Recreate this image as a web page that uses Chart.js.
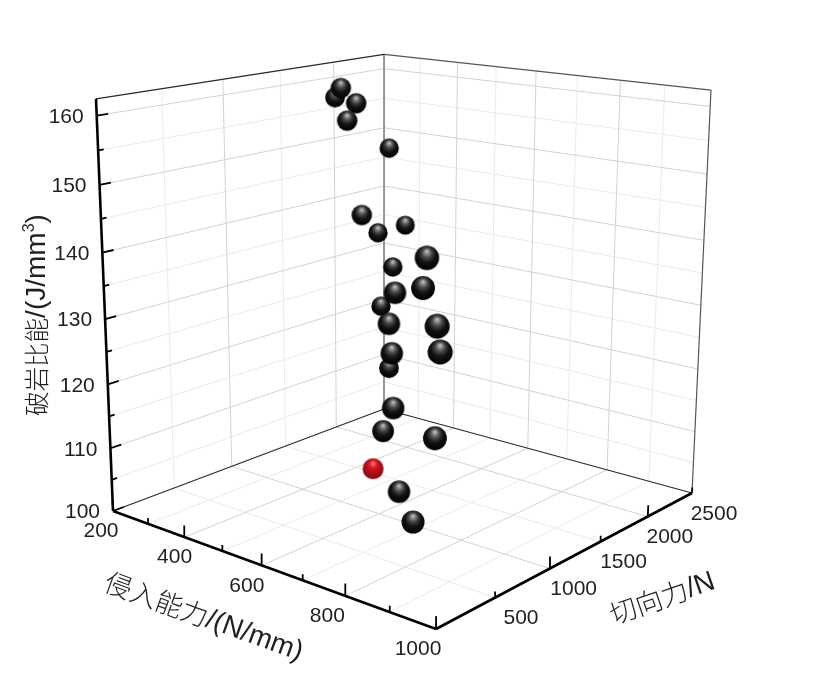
<!DOCTYPE html>
<html>
<head>
<meta charset="utf-8">
<style>
   html, body { margin: 0; padding: 0; background: #fff; }
   canvas { display: block; }
</style>
<script src="https://cdn.jsdelivr.net/npm/chart.js@4"></script>
</head>
<body>
<canvas id="chart" width="813" height="683"></canvas>
<script>
// values
const penetration = [281, 205, 317, 316, 253, 356, 265, 266, 301, 843, 640, 799, 296, 641, 920, 931, 654, 380, 673, 609, 858, 707, 788];
const tangential = [1787, 1993, 1805, 1723, 2359, 1717, 2202, 2480, 2222, 507, 996, 644, 2120, 939, 299, 283, 917, 1895, 860, 1004, 528, 788, 610];
const energy = [159.4, 156.7, 157.2, 154.7, 147.5, 140.0, 133.9, 134.0, 128.4, 144.8, 134.8, 139.4, 122.1, 130.5, 137.7, 134.5, 126.4, 114.0, 118.8, 113.2, 119.8, 107.2, 105.6];

const optimumPenetration = [525];
const optimumTangential = [1215];
const optimumEnergy = [104.2];

const xMajor = [200, 400, 600, 800, 1000];
const xMinor = [300, 500, 700, 900];
const xLabels = [200, 400, 600, 800, 1000];
const yMajor = [0, 1000, 2000];
const yMinor = [500, 1500, 2500];
const yLabels = [500, 1000, 1500, 2000, 2500];
const zMajor = [100, 110, 120, 130, 140, 150, 160];
const zMinor = [105, 115, 125, 135, 145, 155];

const xRange = [200, 1000];
const yRange = [0, 2500];
const zRange = [100, 162.4];

// projective camera, box coordinates (0..1) to page pixels
const cam = {
   a: 259.64, b: 336.08, c: -22.69, d: 113,
   e: 26.59, f: -32.68, g: -418, h: 511,
   i: -0.14532, j: 0.16949, k: -0.05928,
};

function depth(x, y, z) {
   const u = (x - xRange[0]) / (xRange[1] - xRange[0]);
   const v = (y - yRange[0]) / (yRange[1] - yRange[0]);
   const w = (z - zRange[0]) / (zRange[1] - zRange[0]);
   return cam.i * u + cam.j * v + cam.k * w + 1;
}

function project(x, y, z) {
   const u = (x - xRange[0]) / (xRange[1] - xRange[0]);
   const v = (y - yRange[0]) / (yRange[1] - yRange[0]);
   const w = (z - zRange[0]) / (zRange[1] - zRange[0]);
   const D = cam.i * u + cam.j * v + cam.k * w + 1;
   return {
      x: (cam.a * u + cam.b * v + cam.c * w + cam.d) / D,
      y: (cam.e * u + cam.f * v + cam.g * w + cam.h) / D,
   };
}

const gap = { x: NaN, y: NaN };

function segments(list) {
   const out = [];
   list.forEach((s) => {
      out.push(project(...s[0]), project(...s[1]), gap);
   });
   return out;
}

const [x0, x1] = xRange;
const [y0, y1] = yRange;
const [z0, z1] = zRange;

function gridLines(xs, ys, zs) {
   const list = [];
   xs.forEach((x) => {
      if (x === x0 || x === x1) return;
      list.push([[x, y0, z0], [x, y1, z0]]);
      list.push([[x, y1, z0], [x, y1, z1]]);
   });
   ys.forEach((y) => {
      if (y === y0 || y === y1) return;
      list.push([[x0, y, z0], [x1, y, z0]]);
      list.push([[x0, y, z0], [x0, y, z1]]);
   });
   zs.forEach((z) => {
      if (z === z0) return;
      list.push([[x0, y0, z], [x0, y1, z]]);
      list.push([[x0, y1, z], [x1, y1, z]]);
   });
   return list;
}

const tickMajorZ = 1.8;
const tickMinorZ = 0.9;
const tickMajorY = 85;
const tickMinorY = 42;

const axisLines = [
   [[x0, y0, z0], [x1, y0, z0]],
   [[x1, y0, z0], [x1, y1, z0]],
   [[x0, y0, z0], [x0, y0, z1]],
];

const tickLines = [
   ...xMajor.map((x) => [[x, y0, z0], [x, y0, z0 + tickMajorZ]]),
   ...xMinor.map((x) => [[x, y0, z0], [x, y0, z0 + tickMinorZ]]),
   ...yMajor.map((y) => [[x1, y, z0], [x1, y, z0 + tickMajorZ]]),
   ...yMinor.map((y) => [[x1, y, z0], [x1, y, z0 + tickMinorZ]]),
   ...zMajor.map((z) => [[x0, y0, z], [x0, y0 + tickMajorY, z]]),
   ...zMinor.map((z) => [[x0, y0, z], [x0, y0 + tickMinorY, z]]),
];

const frameDark = [
   [[x0, y0, z1], [x0, y1, z1]],
   [[x0, y0, z0], [x0, y1, z0]],
   [[x0, y1, z0], [x1, y1, z0]],
];
const frameGrey = [
   [[x0, y1, z1], [x1, y1, z1]],
   [[x1, y1, z0], [x1, y1, z1]],
];
const frameBack = [[[x0, y1, z0], [x0, y1, z1]]];

// far spheres first so that near ones cover them
function spheres(xs, ys, zs) {
   return xs
      .map((x, n) => ({ ...project(x, ys[n], zs[n]), depth: depth(x, ys[n], zs[n]) }))
      .sort((p, q) => q.depth - p.depth);
}

const spriteCache = {};
const stopAt = [0, 0.15, 0.36, 0.62, 1];
const blackStops = ["#cfcfcf", "#8f8f8f", "#444444", "#121212", "#000000"];
const redStops = ["#f5a8a8", "#e84a50", "#d5141f", "#b00e17", "#820a10"];
const sphereScale = 10.7;

function sphereSprite(r, stops) {
   const key = r.toFixed(1) + stops[0];
   if (spriteCache[key]) return spriteCache[key];
   const c = document.createElement("canvas");
   const size = Math.ceil(r * 2) + 2;
   c.width = size;
   c.height = size;
   const g = c.getContext("2d");
   const m = size / 2;
   const grad = g.createRadialGradient(m, m - r * 0.55, 0, m, m - r * 0.15, r * 1.15);
   stops.forEach((col, n) => {
      grad.addColorStop(stopAt[n], col);
   });
   g.fillStyle = grad;
   g.beginPath();
   g.arc(m, m, r, 0, Math.PI * 2);
   g.fill();
   spriteCache[key] = c;
   return c;
}

function sphereDataset(points, stops) {
   return {
      data: points,
      showLine: false,
      order: 0,
      pointRadius: 12,
      pointStyle: (ctx) => {
         const p = points[ctx.dataIndex];
         return sphereSprite(p ? sphereScale / p.depth : 10, stops);
      },
   };
}

function lineDataset(list, color, width, order) {
   return {
      data: segments(list),
      showLine: true,
      borderColor: color,
      borderWidth: width,
      pointRadius: 0,
      order: order,
   };
}

const cjk = (size) => `300 ${size}px "Noto Sans CJK SC"`;
const latin = (size) => `${size}px "Liberation Sans"`;

// label offsets from their tick, picked by eye
const xLabelShift = [-12, -10, -15, -18, -18];
const yLabelShift = [26, 24, 23, 22, 22];

const labelPlugin = {
   id: "labels3d",
   afterDraw(chart) {
      const ctx = chart.ctx;
      const sx = chart.scales.x;
      const sy = chart.scales.y;
      const at = (x, y, z) => {
         const p = project(x, y, z);
         return [sx.getPixelForValue(p.x), sy.getPixelForValue(p.y)];
      };
      ctx.save();
      ctx.fillStyle = "#231f20";
      ctx.font = latin(21);
      ctx.textBaseline = "middle";

      ctx.textAlign = "right";
      zMajor.forEach((z) => {
         const [px, py] = at(x0, y0, z);
         ctx.fillText(z, px - 13, py + 1.5);
      });

      ctx.textAlign = "center";
      xLabels.forEach((x, n) => {
         const [px, py] = at(x, y0, z0);
         ctx.fillText(x, px + xLabelShift[n], py + 20.5);
      });
      yLabels.forEach((y, n) => {
         const [px, py] = at(x1, y, z0);
         ctx.fillText(y, px + yLabelShift[n], py + 21);
      });

      // titles mix two fonts, so they go out run by run along the baseline
      ctx.textBaseline = "alphabetic";
      ctx.textAlign = "left";
      const title = (runs, px, py, angle) => {
         const widths = runs.map((r) => {
            ctx.font = r.font;
            return ctx.measureText(r.text).width;
         });
         let pos = -widths.reduce((s, w) => s + w, 0) / 2;
         ctx.save();
         ctx.translate(px, py);
         ctx.rotate((angle * Math.PI) / 180);
         runs.forEach((r, n) => {
            ctx.font = r.font;
            ctx.fillText(r.text, pos, r.rise || 0);
            pos += widths[n];
         });
         ctx.restore();
      };
      title(
         [
            { text: "破岩比能", font: cjk(24.5), rise: 1 },
            { text: "/(J/mm", font: latin(28) },
            { text: "3", font: latin(16), rise: -11 },
            { text: ")", font: latin(28) },
         ],
         45, 315, -90
      );
      title(
         [
            { text: "侵入能力", font: cjk(27), rise: 1 },
            { text: "/(N/mm)", font: latin(28) },
         ],
         201, 625, 20
      );
      title(
         [
            { text: "切向力", font: cjk(27), rise: 1 },
            { text: "/N", font: latin(28) },
         ],
         665, 606, -19
      );
      ctx.restore();
   },
};

const blackPoints = spheres(penetration, tangential, energy);
const redPoints = spheres(optimumPenetration, optimumTangential, optimumEnergy);

new Chart(document.getElementById("chart"), {
   type: "scatter",
   data: {
      datasets: [
         sphereDataset(blackPoints, blackStops),
         sphereDataset(redPoints, redStops),
         lineDataset(axisLines, "#000000", 2.6, 1),
         lineDataset(tickLines, "#000000", 1.8, 1),
         lineDataset(frameDark, "#2a2a2a", 1.2, 2),
         lineDataset(frameGrey, "#555555", 1.2, 2),
         lineDataset(frameBack, "#9a9692", 2, 2),
         lineDataset(gridLines(xMajor, yMajor, zMajor), "#d2d2d2", 1, 3),
         lineDataset(gridLines(xMinor, yMinor, zMinor), "#ebebeb", 1, 4),
      ],
   },
   options: {
      responsive: false,
      animation: false,
      layout: { padding: 0, autoPadding: false },
      plugins: { legend: { display: false }, tooltip: { enabled: false } },
      scales: {
         x: { type: "linear", display: false, min: 0, max: 813 },
         y: { type: "linear", display: false, min: 0, max: 683, reverse: true },
      },
   },
   plugins: [labelPlugin],
});
</script>
</body>
</html>
